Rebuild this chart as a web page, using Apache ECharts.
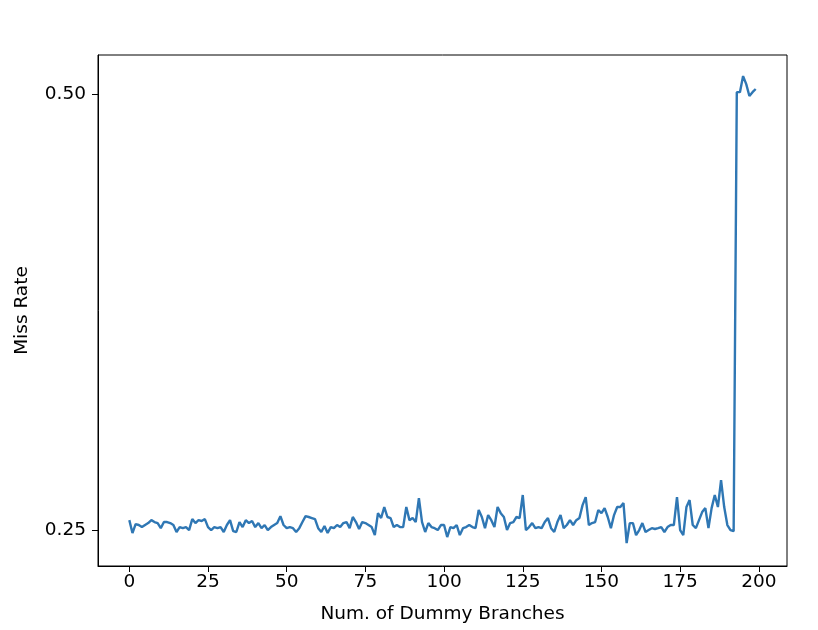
<!DOCTYPE html>
<html>
<head>
<meta charset="utf-8">
<script src="https://cdn.jsdelivr.net/npm/echarts@6/dist/echarts.min.js"></script>
<style>html,body{margin:0;padding:0;background:#fff;}#c{width:818px;height:630px;}</style>
</head>
<body>
<div id="c"></div>
<script>
var branches = [];
for (var i = 0; i < 200; i++) branches.push(i);
var missRate = [
0.2557,0.2483,0.2534,0.2529,0.2517,0.2529,0.2540,0.2557,0.2546,0.2540,
0.2511,0.2546,0.2546,0.2540,0.2529,0.2489,0.2517,0.2511,0.2517,0.2500,
0.2563,0.2540,0.2557,0.2552,0.2563,0.2517,0.2500,0.2517,0.2511,0.2517,
0.2489,0.2529,0.2557,0.2494,0.2489,0.2546,0.2517,0.2557,0.2540,0.2552,
0.2517,0.2540,0.2511,0.2529,0.2500,0.2517,0.2529,0.2540,0.2580,0.2529,
0.2511,0.2517,0.2511,0.2489,0.2511,0.2546,0.2580,0.2575,0.2569,0.2563,
0.2511,0.2489,0.2523,0.2483,0.2517,0.2511,0.2529,0.2517,0.2540,0.2546,
0.2511,0.2575,0.2546,0.2506,0.2546,0.2540,0.2529,0.2517,0.2471,0.2597,
0.2569,0.2632,0.2575,0.2569,0.2517,0.2529,0.2517,0.2517,0.2632,0.2557,
0.2569,0.2546,0.2683,0.2546,0.2489,0.2540,0.2517,0.2511,0.2500,0.2529,
0.2529,0.2460,0.2517,0.2511,0.2529,0.2471,0.2511,0.2517,0.2529,0.2517,
0.2511,0.2615,0.2575,0.2511,0.2586,0.2557,0.2517,0.2632,0.2597,0.2575,
0.2500,0.2540,0.2546,0.2575,0.2569,0.2701,0.2500,0.2517,0.2540,0.2511,
0.2517,0.2511,0.2546,0.2569,0.2511,0.2489,0.2546,0.2586,0.2511,0.2529,
0.2557,0.2529,0.2557,0.2569,0.2643,0.2689,0.2529,0.2540,0.2546,0.2615,
0.2597,0.2626,0.2575,0.2511,0.2586,0.2632,0.2632,0.2655,0.2425,0.2540,
0.2540,0.2471,0.2500,0.2540,0.2489,0.2500,0.2511,0.2506,0.2511,0.2517,
0.2489,0.2517,0.2529,0.2529,0.2689,0.2500,0.2471,0.2632,0.2672,0.2529,
0.2511,0.2557,0.2603,0.2626,0.2511,0.2626,0.2701,0.2632,0.2787,0.2632,
0.2529,0.2500,0.2494,0.5011,0.5011,0.5103,0.5057,0.4989,0.5011,0.5029
];
var xTicks = [0, 25, 50, 75, 100, 125, 150, 175, 200];
var yTicks = [0.25, 0.50];

var data = branches.map(function (b, i) { return [b, missRate[i]]; });
var font = 'DejaVu Sans';
var fs = 18.5;
var chart = echarts.init(document.getElementById('c'), null, {renderer: 'canvas'});
chart.setOption({
  animation: false,
  backgroundColor: '#ffffff',
  grid: {left: 98, right: 31, top: 55, bottom: 64, show: true, borderColor: '#000', borderWidth: 1, backgroundColor: 'transparent'},
  xAxis: {
    type: 'value', min: -9.95, max: 208.95,
    name: 'Num. of Dummy Branches', nameLocation: 'middle', nameGap: 39,
    nameTextStyle: {fontFamily: font, fontSize: fs, color: '#000'},
    axisLine: {show: true, onZero: false, lineStyle: {color: '#000', width: 1}},
    axisTick: {show: true, length: 6, lineStyle: {color: '#000'}, customValues: xTicks},
    axisLabel: {fontFamily: font, fontSize: fs, color: '#000', margin: 7, customValues: xTicks},
    splitLine: {show: false}
  },
  yAxis: {
    type: 'value', min: 0.2294, max: 0.5224,
    name: 'Miss Rate', nameLocation: 'middle', nameGap: 66,
    nameTextStyle: {fontFamily: font, fontSize: fs, color: '#000'},
    axisLine: {show: true, onZero: false, lineStyle: {color: '#000', width: 1}},
    axisTick: {show: true, length: 6, lineStyle: {color: '#000'}, customValues: yTicks},
    axisLabel: {fontFamily: font, fontSize: fs, color: '#000', margin: 12, customValues: yTicks,
      formatter: function (v) { return v.toFixed(2); }},
    splitLine: {show: false}
  },
  series: [{
    type: 'line', data: data, showSymbol: false, symbol: 'none',
    lineStyle: {color: '#2f77b4', width: 2.4}, itemStyle: {color: '#2f77b4'}
  }]
});
</script>
</body>
</html>
